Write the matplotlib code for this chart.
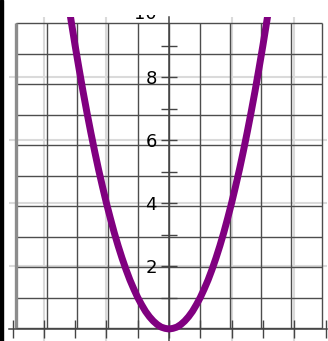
import numpy as np
import matplotlib
matplotlib.use('Agg')
import matplotlib.pyplot as plt
from matplotlib.patches import Rectangle
from matplotlib.transforms import Bbox

# y = x**2, lado derecho de la parabola (el izquierdo es simetrico)
x_der = [0, 0.125, 0.25, 0.375, 0.5, 0.625, 0.75, 0.875, 1.0, 1.125, 1.25,
         1.375, 1.5, 1.625, 1.75, 1.875, 2.0, 2.125, 2.25, 2.375, 2.5,
         2.625, 2.75, 2.875, 3.0, 3.125, 3.25]
y_der = [0, 0.02, 0.06, 0.14, 0.25, 0.39, 0.56, 0.77, 1.0, 1.27, 1.56,
         1.89, 2.25, 2.64, 3.06, 3.52, 4.0, 4.52, 5.06, 5.64, 6.25,
         6.89, 7.56, 8.27, 9.0, 9.77, 10.56]

x = [-v for v in x_der[:0:-1]] + x_der
y = y_der[:0:-1] + y_der

ticks_x = list(range(-5, 6))
ticks_y = [2, 4, 6, 8]
ticks_y_menores = [1, 3, 5, 7, 9]
etiquetas_y = ['2', '4', '6', '8']

# papel cuadriculado de fondo (10 x 10 cuadros)
papel_x = np.linspace(-4.89, 4.89, 11)
papel_y = np.linspace(0.03, 9.71, 11)
grilla_clara = [-4, -2, 2, 4]

W, H = 328, 341
fig = plt.figure(figsize=(W / 100, H / 100), dpi=100)
ax = fig.add_axes([0, 0, 1, (H - 17) / H])
ax.set_xlim(-169 / 31.3, 159 / 31.3)
ax.set_ylim(-12 / 31.5, 312 / 31.5)
ax.patch.set_visible(False)

# grilla clara cada 2 unidades
for g in grilla_clara:
    ax.axvline(g, color='#dadada', lw=1.5, zorder=0)
ax.hlines(ticks_y, -5.12, 5.05, color='#dadada', lw=1.5, zorder=0)

# cuadricula oscura del papel
ax.vlines(papel_x, papel_y[0], papel_y[-1], color='#4d4d4d', lw=1.0, zorder=1)
ax.hlines(papel_y, papel_x[0], papel_x[-1], color='#4d4d4d', lw=1.0, zorder=1)
ax.vlines(papel_x[0], papel_y[0], papel_y[-1], color='#8c8c8c', lw=2.4, zorder=1)

# ejes cartesianos
for lado in ['top', 'right']:
    ax.spines[lado].set_visible(False)
ax.spines['left'].set_position(('data', 0))
ax.spines['bottom'].set_position(('data', 0))
ax.spines['bottom'].set_bounds(-5.12, 5.05)
for lado in ['left', 'bottom']:
    ax.spines[lado].set_color('#444444')
    ax.spines[lado].set_linewidth(1.1)

ax.set_xticks(ticks_x)
ax.set_xticklabels([])
ax.set_yticks(ticks_y)
ax.set_yticklabels(etiquetas_y)
ax.set_yticks(ticks_y_menores, minor=True)
ax.tick_params(axis='x', direction='inout', length=13, width=1, color='#444444')
ax.tick_params(axis='y', which='both', direction='inout', length=11.5,
               width=1, color='#444444', labelsize=13, pad=2.9)

# el 10 queda cortado por el borde superior
t = ax.annotate('10', xy=(0, 10), xytext=(-8.6, 0), textcoords='offset points',
                ha='right', va='center', fontsize=13, annotation_clip=False)
t.set_clip_on(True)
t.set_clip_box(Bbox.from_extents(0, 0, W, H - 15))

ax.plot(x, y, color='#800080', lw=5.0, solid_joinstyle='round',
        solid_capstyle='round', zorder=3)

fig.patches.append(Rectangle((0, 0), 2.5 / W, 1, transform=fig.transFigure,
                             color='black', zorder=5))

fig.savefig('out.png', dpi=100)
